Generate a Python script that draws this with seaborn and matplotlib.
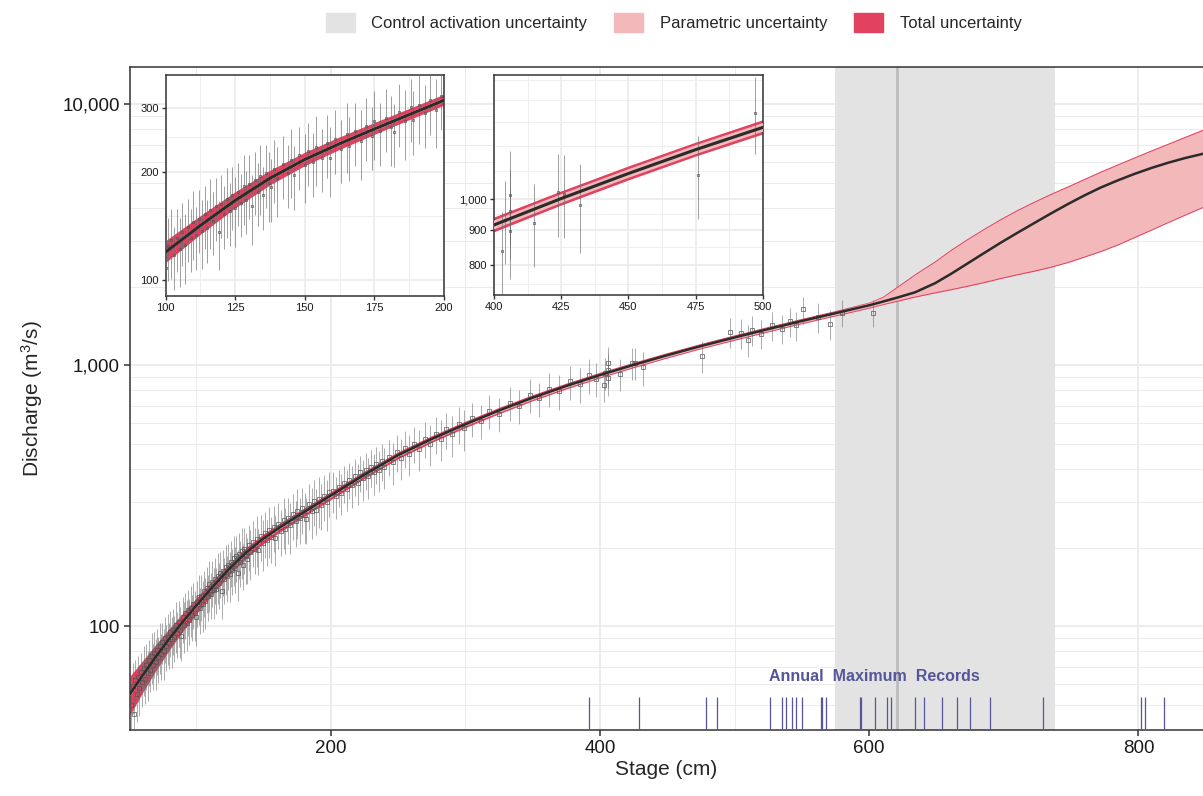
import numpy as np
import matplotlib
matplotlib.use("Agg")
import matplotlib.pyplot as plt
import matplotlib.ticker as mticker
from matplotlib.patches import Patch
import seaborn as sns

# rating curve: median and the two uncertainty envelopes
stage_grid = [51, 60, 70, 80, 90, 100, 112.5, 125, 137.5, 150, 162.5, 175, 187.5, 200,
              225, 250, 275, 300, 325, 350, 375, 400, 425, 450, 475, 500, 525, 550, 575,
              600, 610, 621, 634, 649, 661, 673, 686, 698, 710, 723, 735, 748, 760, 772,
              785, 797, 810, 822, 835, 849]
q_median = [55.0, 64.3, 76.1, 89.2, 103.6, 119.4, 141.6, 166.3, 191.8, 216.3, 239.3, 263.0,
            288.4, 316.2, 380.1, 451.6, 521, 593, 670, 750, 832, 916, 1002, 1091, 1183,
            1276, 1374, 1476, 1581, 1695, 1750, 1815, 1900, 2060, 2240, 2450, 2700, 2950,
            3210, 3510, 3810, 4150, 4470, 4790, 5110, 5400, 5700, 5960, 6220, 6470]
q_param_lo = [54.3, 63.5, 75.2, 88.1, 102.4, 118.0, 139.9, 164.3, 189.5, 213.7, 236.4, 259.8,
              285.0, 312.4, 375.5, 446.2, 514.7, 585.9, 660, 739, 820, 902, 987, 1075, 1165,
              1257, 1353, 1454, 1557, 1667, 1718, 1775, 1840, 1910, 1965, 2025, 2095, 2170,
              2240, 2315, 2395, 2500, 2620, 2750, 2920, 3110, 3330, 3550, 3800, 4080]
q_param_hi = [55.7, 65.1, 77.0, 90.3, 104.8, 120.8, 143.3, 168.3, 194.1, 218.9, 242.2, 266.2,
              291.8, 320.0, 384.7, 457.0, 527.3, 600.1, 680, 761, 844, 930, 1017, 1107, 1201,
              1295, 1395, 1498, 1605, 1735, 1820, 1990, 2220, 2490, 2760, 3030, 3330, 3620,
              3910, 4220, 4510, 4830, 5150, 5490, 5860, 6220, 6630, 7020, 7470, 7980]
q_total_lo = [45.7, 55.3, 67.3, 80.7, 95.3, 111.0, 133.1, 157.7, 182.8, 207.0, 229.7, 253.0,
              278.0, 305.1, 367.6, 437.6, 505.4, 575.8, 651.2, 729.8, 810.4, 893.1, 978, 1065,
              1155, 1245, 1341, 1441, 1543, 1653, 1705, 1757, 1822, 1891, 1945, 2005, 2074,
              2148, 2218, 2292, 2371, 2475, 2594, 2723, 2891, 3079, 3297, 3515, 3762, 4039]
q_total_hi = [64.4, 73.3, 84.9, 97.7, 111.9, 127.8, 150.1, 174.9, 200.8, 225.6, 248.9, 273.0,
              298.8, 327.3, 392.6, 465.6, 536.6, 610.2, 688.8, 770.3, 853.6, 938.9, 1026, 1117,
              1211, 1307, 1407, 1511, 1619, 1745, 1835, 2010, 2242, 2515, 2788, 3060, 3363,
              3656, 3949, 4262, 4555, 4878, 5202, 5545, 5919, 6282, 6696, 7090, 7545, 8060]

# gaugings: stage, discharge, uncertainty (+/- %)
obs_stage = [52, 53, 54, 55, 56, 57, 58, 59, 60, 61, 62, 63, 64, 65, 66, 67, 68, 69, 70, 71,
             72, 73, 74, 75, 76, 77, 78, 79, 80, 81, 82, 83, 84, 85, 86, 87, 88, 89, 90, 91,
             92, 93, 94, 95, 96, 97, 98, 99,
             100, 101, 102, 103, 104, 105, 106, 107, 108, 109, 110, 111, 112, 113, 114, 115,
             116, 117, 118, 119, 120, 121, 122, 123, 124, 125, 126, 127, 128, 129, 130, 131,
             132, 133, 134, 135, 136, 137, 138, 139, 140, 142, 144, 145, 146, 148, 150, 151,
             153, 154, 156, 158, 159, 161, 163, 165, 166, 168, 170, 172, 174, 175, 177, 179,
             181, 182, 184, 186, 188, 189, 191, 193, 195, 197, 199,
             202, 204, 206, 208, 210, 212, 214, 216, 218, 220, 222, 224, 226, 228, 230, 232,
             234, 236, 238, 240, 243, 246, 249, 252, 255, 258, 262, 266, 270, 274, 278, 282,
             286, 290, 295, 299,
             305, 312, 318, 325, 333, 340, 348, 355, 362, 370, 378, 385, 392, 397,
             403, 404, 406, 406, 406, 415, 424, 426, 432, 476, 497,
             505, 510, 513, 520, 528, 535, 541, 546, 551, 562, 571, 580, 603]
obs_q = [50, 59, 46, 62, 55, 64, 58, 67, 61, 69, 63, 71, 66, 74, 68, 77, 71, 79, 73, 81,
         76, 84, 78, 87, 80, 90, 84, 91, 86, 95, 89, 97, 91, 101, 94, 104, 97, 92, 108, 101,
         112, 103, 115, 106, 117, 110, 122, 112,
         108, 124, 129, 117, 131, 122, 136, 125, 140, 131, 145, 133, 148, 137, 152, 139,
         156, 146, 160, 136, 163, 152, 168, 155, 172, 158, 176, 164, 182, 167, 185, 160,
         189, 176, 194, 172, 198, 186, 181, 204, 192, 210, 198, 216, 196, 222, 209, 228,
         213, 234, 219, 240, 218, 247, 232, 254, 236, 259, 243, 268, 252, 276, 259, 283,
         266, 258, 293, 277, 302, 279, 306, 291, 316, 298, 326,
         330, 315, 342, 325, 354, 336, 364, 347, 376, 355, 388, 368, 396, 375, 407, 388,
         418, 398, 430, 408, 446, 425, 464, 442, 482, 458, 500, 479, 523, 500, 545, 522,
         567, 543, 596, 572,
         625, 612, 668, 650, 716, 700, 768, 745, 812, 795, 866, 845, 915, 885,
         839, 932, 1015, 959, 896, 922, 1023, 1018, 980, 1086, 1339,
         1330, 1250, 1360, 1320, 1420, 1380, 1470, 1420, 1634, 1527, 1440, 1590, 1590]
obs_err_pct = [20, 22, 18, 20, 22, 20, 22, 18, 20, 22, 20, 20, 22, 20, 18, 22, 20, 20, 22, 20,
               20, 22, 20, 18, 22, 20, 20, 22, 20, 20, 22, 20, 20, 22, 20, 20, 22, 20, 20, 22,
               20, 22, 20, 20, 22, 20, 20, 22,
               22, 20, 22, 20, 20, 22, 20, 22, 20, 20, 22, 20, 20, 22, 20, 20,
               22, 20, 20, 22, 20, 20, 22, 20, 20, 22, 20, 20, 22, 20, 20, 22,
               20, 20, 22, 20, 20, 22, 20, 20, 22, 20, 20, 22, 20, 20, 22, 20,
               20, 22, 20, 20, 22, 20, 20, 22, 20, 20, 22, 20, 20, 22, 20, 20,
               22, 20, 20, 22, 20, 20, 22, 20, 20, 22, 20,
               18, 18, 16, 18, 16, 18, 16, 18, 16, 18, 16, 18, 16, 18, 16, 18,
               16, 18, 16, 18, 16, 18, 16, 18, 16, 18, 16, 18, 16, 18, 16, 18,
               16, 18, 16, 18,
               15, 15, 15, 15, 15, 15, 15, 15, 15, 15, 15, 15, 15, 15,
               14, 14, 16, 15, 15, 14, 14, 14, 15, 14, 13,
               13, 14, 13, 13, 13, 13, 13, 13, 12, 13, 13, 12, 12]

# annual maximum stages
amax_stage = [392, 429, 479, 487, 526, 535, 538, 543, 546, 550, 564, 565, 568, 593,
              594, 604, 613, 616, 634, 641, 654, 665, 675, 690, 729, 802, 805, 819]

ctrl_range = (575, 738)
ctrl_stage = 621

red = "#E1425F"
pink = "#F2B8BA"
shade = "#E3E3E3"
navy = "#55559A"

sns.set_theme(style="white")
plt.rcParams["font.family"] = ["Liberation Sans", "DejaVu Sans"]
plt.rcParams["mathtext.default"] = "regular"

obs_stage = np.array(obs_stage)
obs_q = np.array(obs_q, dtype=float)
err = np.array(obs_err_pct) / 100.0
yerr = [obs_q * err, obs_q * err]


def draw_curve(ax, lw, ms, elw):
    ax.fill_between(stage_grid, q_total_lo, q_total_hi, color=red, lw=0, zorder=2)
    ax.fill_between(stage_grid, q_param_lo, q_param_hi, color=pink, lw=0, zorder=3)
    ax.errorbar(obs_stage, obs_q, yerr=yerr, fmt="none", ecolor="#6A6A6A",
                elinewidth=elw, alpha=0.65, zorder=4)
    ax.plot(obs_stage, obs_q, "s", ms=ms, mfc="none", mec="#555555", mew=0.5, zorder=5)
    sns.lineplot(x=stage_grid, y=q_median, ax=ax, color="#2B2B2B", linewidth=lw, zorder=6)


def style_grid(ax, major_lw, minor_lw):
    ax.grid(True, which="major", color="#EBEBEB", lw=major_lw)
    ax.grid(True, which="minor", color="#EBEBEB", lw=minor_lw)
    ax.set_axisbelow(True)


fig = plt.figure(figsize=(12.03, 7.96), dpi=100)
ax = fig.add_axes([0.1081, 0.0829, 0.8919, 0.8329])

ax.axvspan(*ctrl_range, color=shade, lw=0, zorder=1)
ax.axvline(ctrl_stage, color="#BDBDBD", lw=2, zorder=1.5)
draw_curve(ax, 1.8, 2.2, 0.6)

ax.vlines(amax_stage, 40, 53.5, color=navy, lw=0.9, zorder=3)
ax.text(604, 64, "Annual  Maximum  Records", color=navy, fontsize=11.5,
        fontweight="bold", ha="center", va="center")

ax.set_yscale("log")
ax.set_xlim(51, 848)
ax.set_ylim(40, 13870)
ax.xaxis.set_major_locator(mticker.MultipleLocator(200))
ax.xaxis.set_minor_locator(mticker.MultipleLocator(100))
ax.yaxis.set_major_locator(mticker.FixedLocator([100, 1000, 10000]))
ax.yaxis.set_minor_locator(mticker.LogLocator(base=10, subs=np.arange(2, 10)))
ax.yaxis.set_minor_formatter(mticker.NullFormatter())
ax.yaxis.set_major_formatter(mticker.FuncFormatter(lambda v, p: f"{v:,.0f}"))
style_grid(ax, 1.3, 0.7)
ax.tick_params(which="major", direction="out", length=4, width=1.1, color="#333333",
               labelsize=13.5, labelcolor="#1A1A1A", left=True, bottom=True)
ax.tick_params(which="minor", length=0)
for s in ax.spines.values():
    s.set_color("#333333")
    s.set_linewidth(1.1)
ax.spines["right"].set_visible(False)
ax.set_xlabel("Stage (cm)", fontsize=15, labelpad=2)
ax.set_ylabel("Discharge (m$^{3}$/s)", fontsize=15, labelpad=12)

# zoomed insets
insets = [
    ([0.1377, 0.6281, 0.2314, 0.2777], (100, 200), (90, 372), [100, 200, 300], [150, 250]),
    ([0.4106, 0.6294, 0.2234, 0.2764], (400, 500), (722, 1525), [800, 900, 1000],
     [750, 850, 950, 1100, 1200, 1300, 1400, 1500]),
]
for pos, xl, yl, ymaj, ymin in insets:
    ins = fig.add_axes(pos)
    ins.set_facecolor("white")
    draw_curve(ins, 2.2, 1.5, 0.7)
    ins.set_yscale("log")
    ins.set_xlim(*xl)
    ins.set_ylim(*yl)
    ins.xaxis.set_major_locator(mticker.MultipleLocator(25))
    ins.xaxis.set_minor_locator(mticker.MultipleLocator(12.5))
    ins.yaxis.set_major_locator(mticker.FixedLocator(ymaj))
    ins.yaxis.set_minor_locator(mticker.FixedLocator(ymin))
    ins.yaxis.set_major_formatter(mticker.FuncFormatter(lambda v, p: f"{v:,.0f}"))
    ins.yaxis.set_minor_formatter(mticker.NullFormatter())
    style_grid(ins, 1.2, 0.6)
    ins.tick_params(which="major", direction="out", length=3, width=1, color="#333333",
                    labelsize=8, labelcolor="#1A1A1A", left=True, bottom=True, pad=2)
    ins.tick_params(which="minor", length=0)
    for s in ins.spines.values():
        s.set_color("#333333")
        s.set_linewidth(1.1)
    ins.set_xlabel("")
    ins.set_ylabel("")

handles = [Patch(color=shade, label="Control activation uncertainty"),
           Patch(color=pink, label="Parametric uncertainty"),
           Patch(color=red, label="Total uncertainty")]
fig.legend(handles=handles, loc="center", bbox_to_anchor=(0.56, 0.972), ncol=3,
           frameon=False, fontsize=12, handlelength=1.75, handleheight=1.4,
           columnspacing=1.6, handletextpad=1.0)

fig.savefig("out.png", dpi=100)
